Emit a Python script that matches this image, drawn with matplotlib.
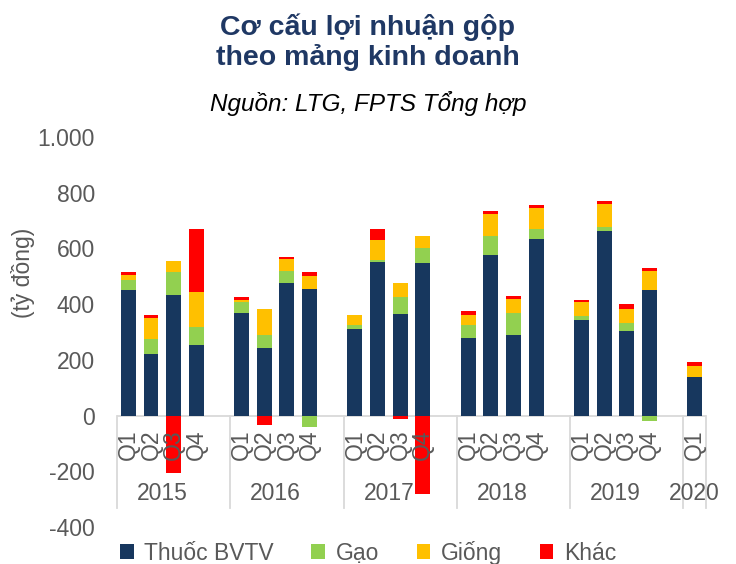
import numpy as np
import matplotlib
matplotlib.use('Agg')
import matplotlib.pyplot as plt


plt.rcParams['font.family'] = ['Liberation Sans', 'DejaVu Sans']

years = ['2015', '2016', '2017', '2018', '2019', '2020']
quarters = [['Q1', 'Q2', 'Q3', 'Q4']] * 5 + [['Q1']]

# loi nhuan gop theo mang, ty dong (Q1/2015 .. Q1/2020)
thuoc_bvtv = [452, 220, 433, 252, 367, 243, 475, 454, 312, 551, 364, 546,
              279, 578, 288, 633, 343, 664, 303, 452, 139]
gao = [33, 55, 82, 66, 39, 47, 45, -40, 13, 8, 60, 54,
       47, 67, 80, 38, 13, 13, 29, -20, 0]
giong = [20, 74, 41, 125, 10, 91, 42, 47, 35, 71, 53, 45,
         36, 77, 49, 73, 50, 84, 50, 67, 40]
khac = [10, 12, -205, 227, 9, -33, 9, 14, 0, 41, -12, -280,
        12, 14, 13, 11, 10, 8, 20, 9, 15]

series = [('Thuốc BVTV', thuoc_bvtv, '#17375E'),
          ('Gạo', gao, '#92D050'),
          ('Giống', giong, '#FFC000'),
          ('Khác', khac, '#FF0000')]

# category positions: four quarters per year followed by one empty slot
pos = []
labels = []
idx = 0
for qs in quarters:
    for q in qs:
        pos.append(idx)
        labels.append(q)
        idx += 1
    idx += 1
pos = np.array(pos)
n_slots = idx - 1

fig = plt.figure(figsize=(7.36, 5.64), dpi=100)
ax = fig.add_axes([0.159, 0.0656, 0.8003, 0.6915])

pos_bottom = np.zeros(len(pos))
neg_bottom = np.zeros(len(pos))
for name, vals, color in series:
    v = np.array(vals, dtype=float)
    bottom = np.where(v >= 0, pos_bottom, neg_bottom)
    ax.bar(pos, v, bottom=bottom, width=0.66, color=color, label=name,
           edgecolor='none', zorder=3)
    pos_bottom += np.where(v >= 0, v, 0)
    neg_bottom += np.where(v < 0, v, 0)

ax.set_xlim(-0.5, n_slots - 0.5)
ax.set_ylim(-400, 1000)
ax.set_yticks(range(-400, 1001, 200))
ax.set_yticklabels([f'{t:,}'.replace(',', '.') for t in range(-400, 1001, 200)])
ax.tick_params(axis='y', length=0, pad=16, labelsize=16.5, labelcolor='#595959')
ax.set_xticks([])
for s in ax.spines.values():
    s.set_visible(False)

grey = '#D9D9D9'
ax.axhline(0, color=grey, lw=1.3, zorder=2)

# quarter labels (drawn over the negative bars), year labels, separators
for p, lab in zip(pos, labels):
    ax.text(p, -50, lab, rotation=90, ha='center', va='top', fontsize=16.5,
            color='#595959', zorder=4)

start = 0
edges = [-0.5]
for y, qs in zip(years, quarters):
    n = len(qs)
    mid = start + (n - 1) / 2 if n > 1 else start
    ax.text(mid, -280, y, ha='center', va='center', fontsize=16.5,
            color='#595959', zorder=4)
    start += n + 1
    edges.append(min(start - 0.5, n_slots - 0.5))
for e in edges:
    ax.plot([e, e], [0, -330], color=grey, lw=1.3, clip_on=False, zorder=1)

fig.text(0.5, 0.925, 'Cơ cấu lợi nhuận gộp\ntheo mảng kinh doanh', ha='center',
         va='center', fontsize=20.5, fontweight='bold', color='#1F3864',
         linespacing=1.13)
fig.text(0.5, 0.817, 'Nguồn: LTG, FPTS Tổng hợp', ha='center', va='center',
         fontsize=17.5, style='italic', color='black')
fig.text(0.031, 0.516, '(tỷ đồng)', rotation=90, ha='center', va='center',
         fontsize=16.5, color='#595959')

fig.legend(loc='center', bbox_to_anchor=(0.5, 0.02), ncol=4, frameon=False,
           fontsize=16.5, handlelength=0.6, handleheight=0.6,
           columnspacing=1.65, handletextpad=0.45, labelcolor='#595959')

fig.savefig('out.png', dpi=100)
